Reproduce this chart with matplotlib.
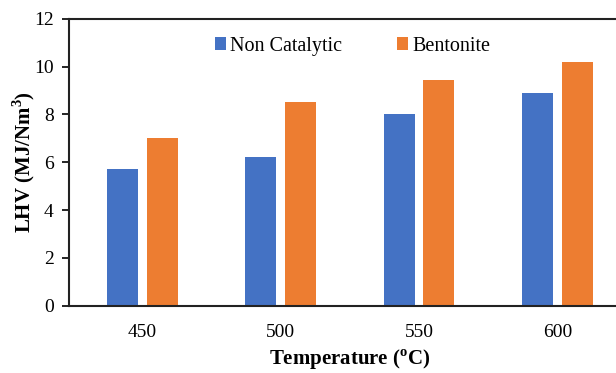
import numpy as np
import matplotlib.pyplot as plt

# Data
temperatures = ["450", "500", "550", "600"]
non_catalytic = [5.7, 6.2, 8.0, 8.9]
bentonite = [7.0, 8.5, 9.45, 10.2]

plt.rcParams['font.family'] = ['Liberation Serif', 'DejaVu Serif']

fig = plt.figure(figsize=(6.16, 3.73), dpi=100)
ax = fig.add_axes([0.112, 0.18, 0.912, 0.77])

x = np.arange(len(temperatures))
w = 0.224
ax.bar(x - 0.143, non_catalytic, w, color='#4472C4', label='Non Catalytic')
ax.bar(x + 0.143, bentonite, w, color='#ED7D31', label='Bentonite')

ax.set_xlim(-0.53, 3.53)
ax.set_ylim(0, 12)
ax.set_yticks(range(0, 13, 2))
ax.set_xticks(x)
ax.set_xticklabels(temperatures)
ax.tick_params(axis='y', direction='out', length=5, width=1.2, labelsize=14, pad=6)
ax.tick_params(axis='x', length=0, labelsize=14, pad=13)

for side in ['top', 'left', 'bottom', 'right']:
    ax.spines[side].set_linewidth(1.5)
    ax.spines[side].set_color('#222222')

ax.set_ylabel('LHV (MJ/Nm$^\\mathregular{3}$)', fontsize=15, fontweight='bold', labelpad=-2)
ax.set_xlabel('Temperature ($^\\mathregular{o}$C)', fontsize=15, fontweight='bold', labelpad=5)

ax.legend(loc='upper center', bbox_to_anchor=(0.505, 1.0), ncol=2, frameon=False,
          fontsize=14.5, handlelength=0.55, handleheight=0.6, handletextpad=0.2,
          columnspacing=2.75)

fig.savefig('out.png', dpi=100)
